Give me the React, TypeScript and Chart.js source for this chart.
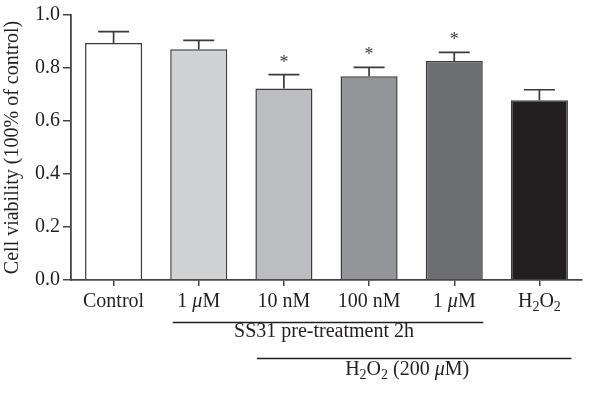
import React, { useEffect, useRef } from "react";
import { Chart, registerables } from "chart.js";

Chart.register(...registerables);

const categories = ["Control", "1 μM", "10 nM", "100 nM", "1 μM", "H2O2"];
const values = [0.894, 0.871, 0.723, 0.769, 0.826, 0.678];
const errors = [0.043, 0.033, 0.052, 0.033, 0.033, 0.040];
const significant = [false, false, true, true, true, false];
const barColors = ["#ffffff", "#d1d2d4", "#bcbdc1", "#939598", "#6d6e71", "#231f20"];
const yTicks = [0, 0.2, 0.4, 0.6, 0.8, 1.0];
const yTitle = "Cell viability (100% of control)";
const bracket1Text = "SS31 pre-treatment 2h";

type Seg = { t: string; it?: boolean; sub?: boolean };
const richLabels: Seg[][] = [
  [{ t: "Control" }],
  [{ t: "1 " }, { t: "μ", it: true }, { t: "M" }],
  [{ t: "10 nM" }],
  [{ t: "100 nM" }],
  [{ t: "1 " }, { t: "μ", it: true }, { t: "M" }],
  [{ t: "H" }, { t: "2", sub: true }, { t: "O" }, { t: "2", sub: true }],
];
const bracket2Label: Seg[] = [
  { t: "H" }, { t: "2", sub: true }, { t: "O" }, { t: "2", sub: true }, { t: " (200 " }, { t: "μ", it: true }, { t: "M)" },
];

const FONT = "'Liberation Serif', 'DejaVu Serif', serif";
const TEXT = "#231f20";
const FS = 20;

function segFont(s: Seg, size: number) {
  const sz = s.sub ? Math.round(size * 0.7) : size;
  return `${s.it ? "italic " : ""}${sz}px ${FONT}`;
}

function drawRich(ctx: CanvasRenderingContext2D, segs: Seg[], cx: number, y: number, size: number) {
  let w = 0;
  for (const s of segs) {
    ctx.font = segFont(s, size);
    w += ctx.measureText(s.t).width;
  }
  let x = cx - w / 2;
  ctx.textAlign = "left";
  ctx.textBaseline = "alphabetic";
  for (const s of segs) {
    ctx.font = segFont(s, size);
    ctx.fillText(s.t, x, y + (s.sub ? size * 0.22 : 0));
    x += ctx.measureText(s.t).width;
  }
}

const overlayPlugin = {
  id: "overlay",
  afterDatasetsDraw(chart: any) {
    const ctx: CanvasRenderingContext2D = chart.ctx;
    const xs = chart.scales.x;
    const ys = chart.scales.y;
    ctx.save();
    ctx.strokeStyle = "#3b3b3d";
    ctx.lineWidth = 1.7;
    values.forEach((v, i) => {
      const x = xs.getPixelForValue(i);
      const y0 = ys.getPixelForValue(v);
      const y1 = ys.getPixelForValue(v + errors[i]);
      ctx.beginPath();
      ctx.moveTo(x, y0);
      ctx.lineTo(x, y1);
      ctx.moveTo(x - 15.5, y1);
      ctx.lineTo(x + 15.5, y1);
      ctx.stroke();
      if (significant[i]) {
        ctx.fillStyle = "#3b3b3d";
        ctx.font = `18px ${FONT}`;
        ctx.textAlign = "center";
        ctx.textBaseline = "alphabetic";
        ctx.fillText("*", x, y1 - 7);
      }
    });
    ctx.restore();
  },
  afterDraw(chart: any) {
    const ctx: CanvasRenderingContext2D = chart.ctx;
    const xs = chart.scales.x;
    ctx.save();
    ctx.fillStyle = TEXT;
    const labelY = xs.top + 27;
    richLabels.forEach((segs, i) => {
      drawRich(ctx, segs, xs.getPixelForValue(i), labelY, FS);
    });
    const b1a = xs.getPixelForValue(1) - 26;
    const b1b = xs.getPixelForValue(4) + 29;
    const l1y = xs.top + 42.5;
    ctx.strokeStyle = TEXT;
    ctx.lineWidth = 1.3;
    ctx.beginPath();
    ctx.moveTo(b1a, l1y);
    ctx.lineTo(b1b, l1y);
    ctx.stroke();
    drawRich(ctx, [{ t: bracket1Text }], (b1a + b1b) / 2 - 4, l1y + 14, FS);
    const b2a = xs.getPixelForValue(2) - 27;
    const b2b = xs.getPixelForValue(5) + 32;
    const l2y = xs.top + 78.5;
    ctx.beginPath();
    ctx.moveTo(b2a, l2y);
    ctx.lineTo(b2b, l2y);
    ctx.stroke();
    drawRich(ctx, bracket2Label, (b2a + b2b) / 2 - 7, l2y + 16, FS);
    ctx.restore();
  },
};

export default function App() {
  const ref = useRef<HTMLCanvasElement | null>(null);
  useEffect(() => {
    if (!ref.current) return;
    const chart = new Chart(ref.current, {
      type: "bar",
      data: {
        labels: categories,
        datasets: [
          {
            data: values,
            backgroundColor: barColors,
            borderColor: "#3b3b3d",
            borderWidth: 1.5,
            borderSkipped: "bottom",
            categoryPercentage: 1,
            barPercentage: 0.67,
          },
        ],
      },
      options: {
        responsive: false,
        animation: false,
        layout: { padding: { top: 12, right: 18, left: 0, bottom: 0 } },
        plugins: { legend: { display: false }, tooltip: { enabled: false } },
        scales: {
          x: {
            grid: { display: true, offset: false, drawOnChartArea: false, drawTicks: true, tickLength: 6, color: "#444", lineWidth: 1.5 },
            border: { display: true, color: "#444", width: 1.8 },
            ticks: { display: false },
            afterFit: (s: any) => { s.height = 113; },
          },
          y: {
            min: 0,
            max: 1,
            afterBuildTicks: (s: any) => { s.ticks = yTicks.map((v) => ({ value: v })); },
            grid: { display: true, drawOnChartArea: false, drawTicks: true, tickLength: 8, color: "#444", lineWidth: 1.5 },
            border: { display: true, color: "#444", width: 1.8 },
            ticks: {
              padding: 3,
              color: TEXT,
              font: { family: FONT, size: FS },
              callback: (v: any) => Number(v).toFixed(1),
            },
            title: {
              display: true,
              text: yTitle,
              color: TEXT,
              font: { family: FONT, size: FS },
              padding: { top: 1, bottom: 0 },
            },
            afterFit: (s: any) => { s.width = 71; },
          },
        },
      },
      plugins: [overlayPlugin],
    });
    return () => chart.destroy();
  }, []);
  return (
    <div style={{ position: "absolute", left: 0, top: 0, width: 600, height: 393, background: "#fff" }}>
      <canvas ref={ref} width={600} height={393} style={{ display: "block" }} />
    </div>
  );
}
